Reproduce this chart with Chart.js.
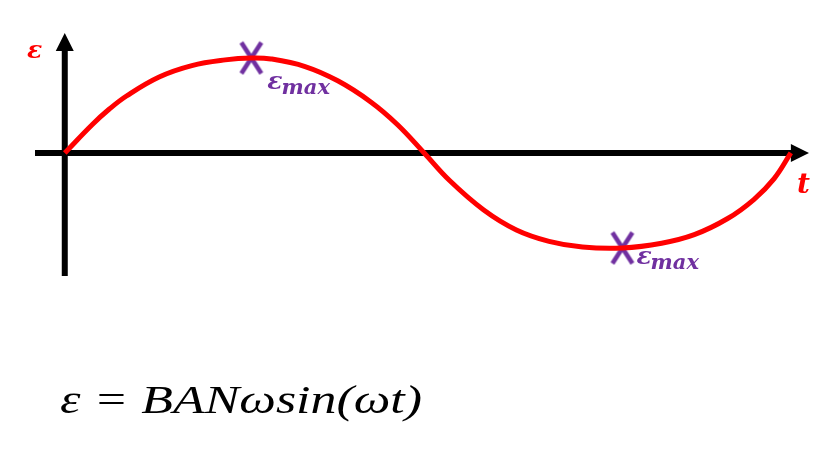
<!DOCTYPE html>
<html>
<head>
<meta charset="utf-8">
<script src="https://cdn.jsdelivr.net/npm/chart.js@4/dist/chart.umd.min.js"></script>
<style>
  html, body { margin: 0; padding: 0; background: #fff; overflow: hidden; }
  canvas { display: block; }
</style>
</head>
<body>
<canvas id="chart" width="823" height="458"></canvas>
<script>
// time (0 = origin, 100 = end of one period) and emf
const tValues = [0, 3.8, 6.1, 8.5, 13.0, 17.5, 22.1, 25.7, 28.4, 33.1, 37.6, 42.1, 45.8, 49.5,
                 53.0, 57.7, 62.2, 66.7, 71.3, 76.8, 82.2, 86.7, 91.3, 94.9, 97.7, 100];
const emfValues = [0, 0.30, 0.46, 0.60, 0.80, 0.92, 0.98, 1.0, 0.99, 0.91, 0.76, 0.54, 0.30, 0,
                   -0.29, -0.60, -0.81, -0.93, -0.99, -1.0, -0.95, -0.86, -0.69, -0.49, -0.27, 0];

// the two marked maxima
const peakT = [25.7, 76.8];
const peakE = [1.0, -1.0];

const RED = '#ff0000';
const PURPLE = '#7030a0';

// tall X used as the marker
const cross = document.createElement('canvas');
cross.width = 26;
cross.height = 35;
(function () {
    const c = cross.getContext('2d');
    c.strokeStyle = PURPLE;
    c.lineWidth = 4.5;
    c.beginPath();
    c.moveTo(3, 2); c.lineTo(23, 33);
    c.moveTo(23, 2); c.lineTo(3, 33);
    c.stroke();
})();

const axesPlugin = {
    id: 'axes',
    beforeDatasetsDraw(chart) {
        const ctx = chart.ctx;
        const a = chart.chartArea;
        const x0 = chart.scales.x.getPixelForValue(0);
        const y0 = chart.scales.y.getPixelForValue(0);
        const xEnd = chart.scales.x.getPixelForValue(100);
        ctx.save();
        ctx.fillStyle = '#000';
        ctx.strokeStyle = '#000';
        ctx.lineWidth = 6;
        // vertical axis
        ctx.beginPath();
        ctx.moveTo(x0, a.bottom);
        ctx.lineTo(x0, a.top + 14);
        ctx.stroke();
        ctx.beginPath();
        ctx.moveTo(x0, a.top);
        ctx.lineTo(x0 + 9, a.top + 18);
        ctx.lineTo(x0 - 9, a.top + 18);
        ctx.closePath();
        ctx.fill();
        // horizontal axis
        ctx.beginPath();
        ctx.moveTo(a.left, y0);
        ctx.lineTo(xEnd + 4, y0);
        ctx.stroke();
        ctx.beginPath();
        ctx.moveTo(a.right, y0);
        ctx.lineTo(xEnd, y0 - 9);
        ctx.lineTo(xEnd, y0 + 9);
        ctx.closePath();
        ctx.fill();
        ctx.restore();
    }
};

const labelPlugin = {
    id: 'labels',
    afterDraw(chart) {
        const ctx = chart.ctx;
        const sx = chart.scales.x, sy = chart.scales.y;
        ctx.save();
        ctx.textBaseline = 'alphabetic';
        ctx.textAlign = 'left';

        // axis names
        ctx.fillStyle = RED;
        ctx.font = 'italic bold 25px "DejaVu Serif"';
        ctx.fillText('ε', 27, 58);
        ctx.font = 'italic bold 28px "DejaVu Serif"';
        ctx.fillText('t', 797, 193);

        // epsilon max labels
        const offs = [[16, 31], [14, 16]];
        ctx.fillStyle = PURPLE;
        peakT.forEach((t, i) => {
            const px = sx.getPixelForValue(t) + offs[i][0];
            const py = sy.getPixelForValue(peakE[i]) + offs[i][1];
            ctx.font = 'italic bold 25px "DejaVu Serif"';
            ctx.fillText('ε', px, py);
            const w = ctx.measureText('ε').width;
            ctx.font = 'italic bold 21px "DejaVu Serif"';
            ctx.fillText('max', px + w - 1, py + 5);
        });

        // formula
        ctx.fillStyle = '#000';
        ctx.font = 'italic 39px "Liberation Serif"';
        const f = 'ε = BANωsin(ωt)';
        const fw = ctx.measureText(f).width;
        ctx.save();
        ctx.translate(60, 413);
        ctx.scale(362 / fw, 1);
        ctx.fillText(f, 0, 0);
        ctx.restore();
        ctx.restore();
    }
};

new Chart(document.getElementById('chart'), {
    type: 'line',
    data: {
        datasets: [
            {
                label: 'emf',
                data: tValues.map((t, i) => ({ x: t, y: emfValues[i] })),
                borderColor: RED,
                borderWidth: 5,
                pointRadius: 0,
                tension: 0.4,
                fill: false
            },
            {
                label: 'max',
                data: peakT.map((t, i) => ({ x: t, y: peakE[i] })),
                showLine: false,
                pointStyle: cross,
                pointRadius: 13
            }
        ]
    },
    options: {
        responsive: false,
        animation: false,
        devicePixelRatio: 1,
        layout: { padding: { left: 35, right: 8, top: 33, bottom: 182 } },
        plugins: {
            legend: { display: false },
            tooltip: { enabled: false }
        },
        scales: {
            x: { type: 'linear', display: false, min: -4.1, max: 102.5 },
            y: { display: false, min: -1.295, max: 1.263 }
        }
    },
    plugins: [axesPlugin, labelPlugin]
});
</script>
</body>
</html>
